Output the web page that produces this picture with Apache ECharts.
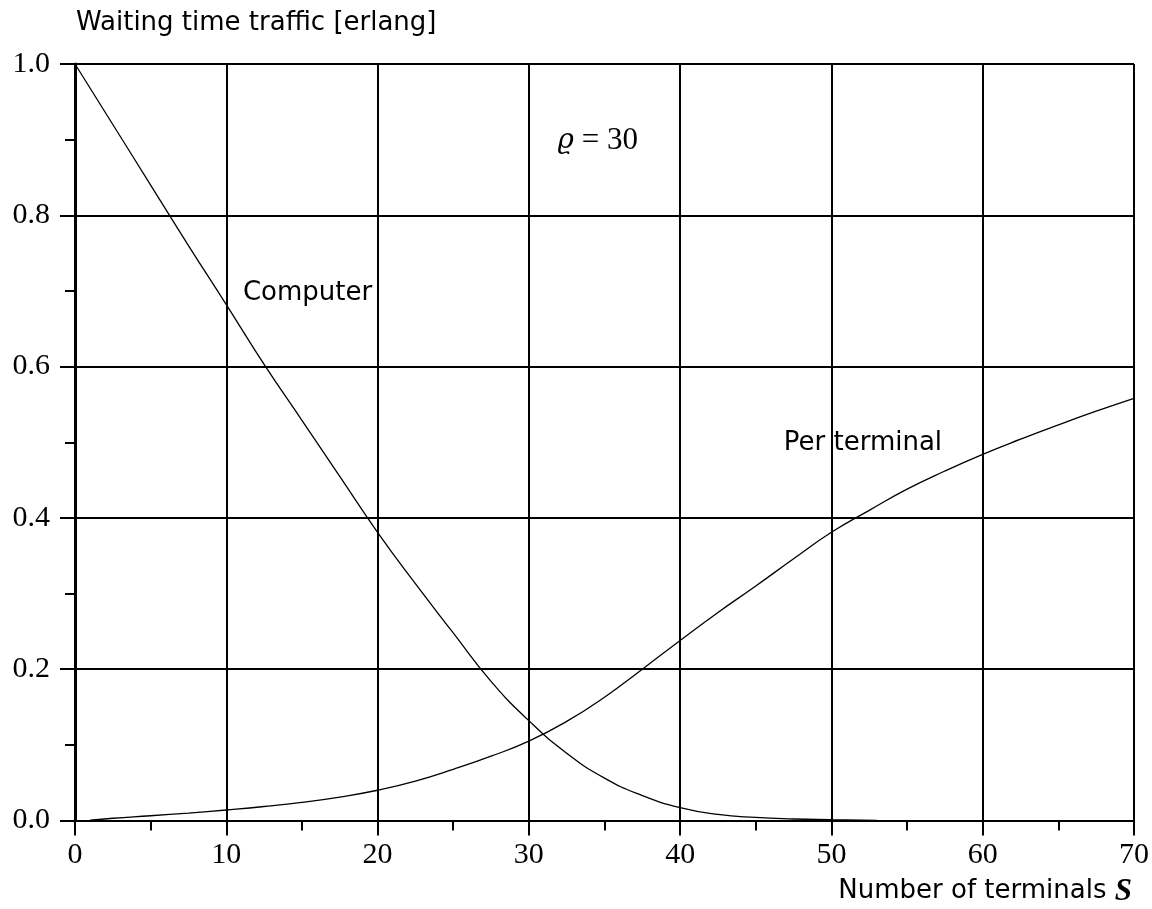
<!DOCTYPE html>
<html>
<head>
<meta charset="utf-8">
<script src="https://cdn.jsdelivr.net/npm/echarts@6/dist/echarts.min.js"></script>
<style>
html,body{margin:0;padding:0;background:#fff;}
#c{width:1152px;height:909px;}
</style>
</head>
<body>
<div id="c"></div>
<script>
// Data
const computerS = [0, 2.5, 5, 7.5, 10, 12.5, 15, 17.5, 20, 22.5, 25, 27.5, 30, 32.5, 35, 37.5, 40, 42.5, 45, 47.5, 50, 53];
const computerV = [1.0, 0.92, 0.84, 0.76, 0.682, 0.603, 0.529, 0.455, 0.381, 0.313, 0.248, 0.184, 0.132, 0.089, 0.056, 0.033, 0.017, 0.008, 0.004, 0.002, 0.001, 0.0];
const terminalS = [1, 2.5, 5, 7.5, 10, 12.5, 15, 17.5, 20, 22.5, 25, 27.5, 30, 32.5, 35, 37.5, 40, 42.5, 45, 47.5, 50, 52.5, 55, 57.5, 60, 62.5, 65, 67.5, 70];
const terminalV = [0.0005, 0.003, 0.0063, 0.0098, 0.0139, 0.0185, 0.024, 0.031, 0.040, 0.052, 0.0676, 0.085, 0.105, 0.131, 0.163, 0.200, 0.238, 0.275, 0.310, 0.346, 0.381, 0.410, 0.438, 0.462, 0.484, 0.504, 0.523, 0.541, 0.558];
const annotations = [
  {name: 'Computer', S: 11.1, v: 0.697},
  {name: 'Per terminal', S: 46.85, v: 0.499},
  {name: 'rho', S: 31.9, v: 0.899}
];
const yTitle = 'Waiting time traffic [erlang]';
const xTitle = 'Number of terminals ';
const xSymbol = 'S';
const rhoText = '{i|ϱ}{r| = 30}';

const pair = (xs, ys) => xs.map((x, i) => [x, ys[i]]);
const serif = 'Liberation Serif';
const sans = 'DejaVu Sans';

const chart = echarts.init(document.getElementById('c'), null, {renderer: 'canvas'});
chart.setOption({
  animation: false,
  backgroundColor: '#fff',
  title: [
    {text: yTitle, left: 76, top: 10, padding: 0, textStyle: {fontFamily: sans, fontSize: 26, fontWeight: 'normal', color: '#000'}},
    {text: xTitle + '{s|' + xSymbol + '}', right: 20, top: 876, padding: 0,
     textStyle: {fontFamily: sans, fontSize: 26, fontWeight: 'normal', color: '#000',
       rich: {s: {fontFamily: serif, fontStyle: 'italic', fontWeight: 'bold', fontSize: 31, color: '#000'}}}}
  ],
  grid: {left: 75, right: 18, top: 64, bottom: 88.5, containLabel: false},
  xAxis: {
    type: 'value', min: 0, max: 70, interval: 10,
    axisLine: {show: true, onZero: false, lineStyle: {color: '#000', width: 2}},
    axisTick: {show: true, length: 15, lineStyle: {color: '#000', width: 2}},
    minorTick: {show: true, splitNumber: 2, length: 10, lineStyle: {color: '#000', width: 2}},
    splitLine: {show: true, lineStyle: {color: '#000', width: 2}},
    axisLabel: {fontFamily: serif, fontSize: 30, color: '#000', margin: 20}
  },
  yAxis: {
    type: 'value', min: 0, max: 1, interval: 0.2,
    axisLine: {show: true, lineStyle: {color: '#000', width: 3}},
    axisTick: {show: true, length: 15, lineStyle: {color: '#000', width: 2}},
    minorTick: {show: true, splitNumber: 2, length: 10, lineStyle: {color: '#000', width: 2}},
    splitLine: {show: true, lineStyle: {color: '#000', width: 2}},
    axisLabel: {fontFamily: serif, fontSize: 30, color: '#000', margin: 25, formatter: v => v.toFixed(1)}
  },
  series: [
    {type: 'line', name: 'Computer', data: pair(computerS, computerV), smooth: 0.5, showSymbol: false,
     lineStyle: {color: '#000', width: 1.3}, z: 5},
    {type: 'line', name: 'Per terminal', data: pair(terminalS, terminalV), smooth: 0.5, showSymbol: false,
     lineStyle: {color: '#000', width: 1.3}, z: 5},
    {type: 'scatter', symbolSize: 0, z: 6, itemStyle: {opacity: 1},
     data: annotations.map(a => ({value: [a.S, a.v], name: a.name})),
     label: {show: true, position: 'right', distance: 0, color: '#000', opacity: 1, fontFamily: sans, fontSize: 26,
       formatter: p => p.name === 'rho' ? rhoText : p.name,
       rich: {
         i: {fontFamily: 'DejaVu Serif', fontStyle: 'italic', fontSize: 28, color: '#000'},
         r: {fontFamily: serif, fontSize: 31, color: '#000'}
       }}}
  ]
});
</script>
</body>
</html>
